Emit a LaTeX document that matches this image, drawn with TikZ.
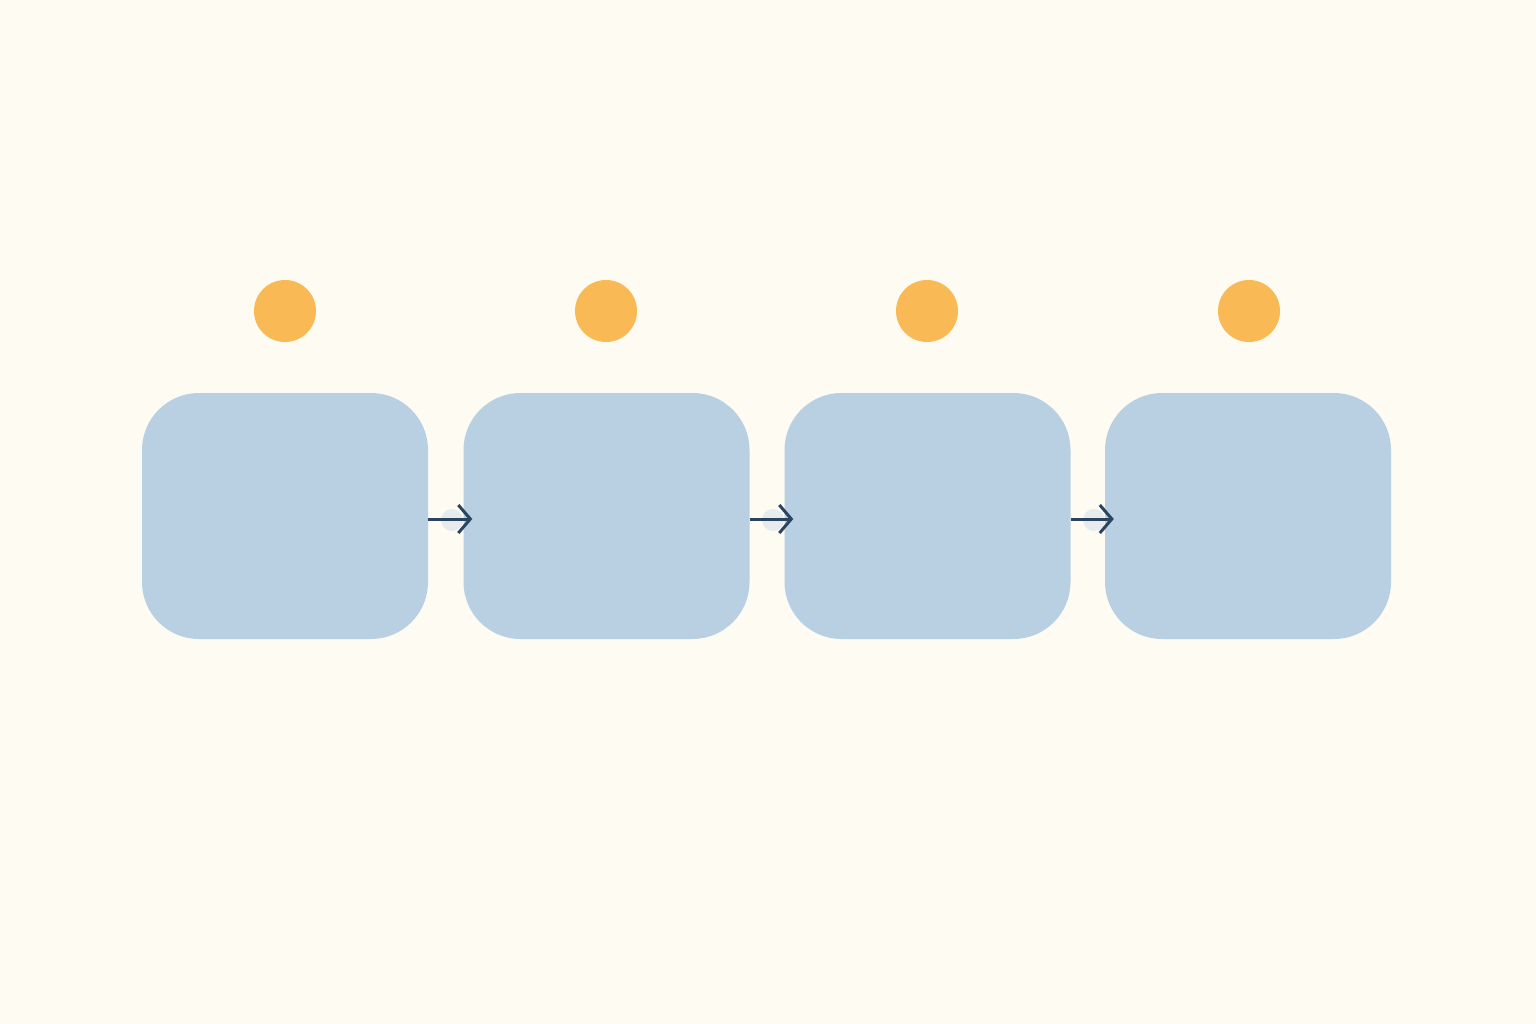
\documentclass[tikz,border=0pt]{standalone}
\usetikzlibrary{arrows.meta}
\definecolor{bgc}{HTML}{FEFBF3}
\definecolor{boxc}{HTML}{B9D0E3}
\definecolor{dotc}{HTML}{F9B955}
\definecolor{arrc}{HTML}{2B4560}
\definecolor{halo}{HTML}{E6EBEE}
\begin{document}
\begin{tikzpicture}[x=1pt,y=-1pt,
  stage/.style={fill=boxc, draw=none, rounded corners=57pt, minimum width=286pt, minimum height=246pt, inner sep=0pt},
  marker/.style={circle, fill=dotc, draw=none, minimum size=62pt, inner sep=0pt},
  haloc/.style={circle, fill=halo, draw=none, minimum size=22pt, inner sep=0pt},
  link/.style={draw=arrc, line width=3pt, -{Straight Barb[length=12pt,width=28pt,line width=3pt]}}]
\fill[bgc] (0,0) rectangle (1536,1024);
\useasboundingbox (0,0) rectangle (1536,1024);
\node[haloc] (h1) at (452,520) {};
\node[haloc] (h2) at (773,520) {};
\node[haloc] (h3) at (1094,520) {};
\node[stage] (b1) at (285,516) {};
\node[stage] (b2) at (606.5,516) {};
\node[stage] (b3) at (927.5,516) {};
\node[stage] (b4) at (1248,516) {};
\node[marker] (d1) at (285,311) {};
\node[marker] (d2) at (606,311) {};
\node[marker] (d3) at (927,311) {};
\node[marker] (d4) at (1249,311) {};
\draw[link] (b1.east |- 0,519) -- ([xshift=9pt]b2.west |- 0,519);
\draw[link] (b2.east |- 0,519) -- ([xshift=9pt]b3.west |- 0,519);
\draw[link] (b3.east |- 0,519) -- ([xshift=9pt]b4.west |- 0,519);
\end{tikzpicture}
\end{document}
